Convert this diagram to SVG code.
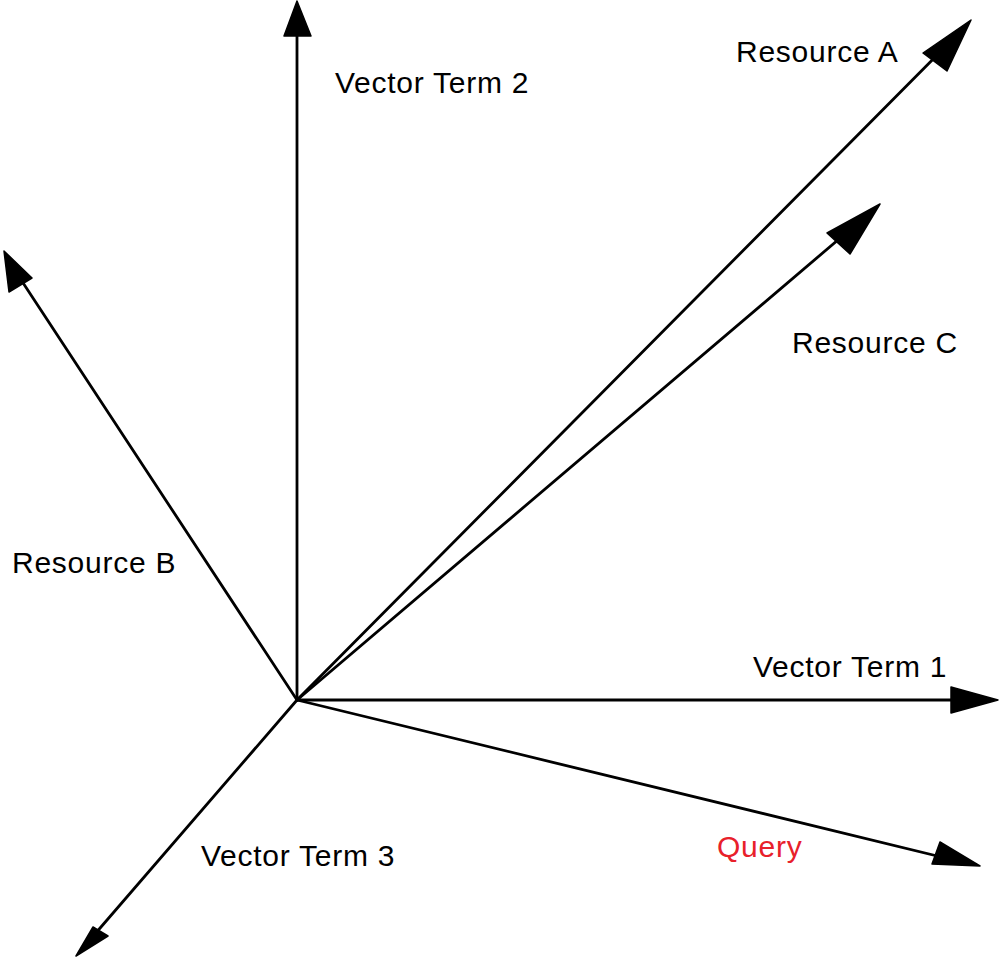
<svg xmlns="http://www.w3.org/2000/svg" width="1000" height="958" viewBox="0 0 1000 958">
<style>
.ax{stroke:#000;stroke-width:2.8;fill:none;stroke-linecap:round}
.hd{fill:#000;stroke:#000;stroke-width:1.5;stroke-linejoin:round}
.lb{font-family:"Liberation Sans",Arial,sans-serif;font-size:30px;letter-spacing:0.75px;fill:#000}
.q{fill:#e8202a}
</style>
<rect width="1000" height="958" fill="#fff"/>
<g id="connectors">
<line class="ax" x1="297" y1="700" x2="990" y2="700"/>
<line class="ax" x1="297" y1="700" x2="297" y2="10"/>
<line class="ax" x1="297" y1="700" x2="962" y2="30"/>
<line class="ax" x1="297" y1="700" x2="872" y2="211"/>
<line class="ax" x1="297" y1="700" x2="8" y2="260"/>
<line class="ax" x1="297" y1="700" x2="970" y2="864"/>
<line class="ax" x1="297" y1="700" x2="82" y2="949"/>
<polygon class="hd" points="998,700 951,687 951,713"/>
<polygon class="hd" points="297,1 284,36 311,36"/>
<polygon class="hd" points="971,20 923,53 947,71"/>
<polygon class="hd" points="880,204 827,233 850,254"/>
<polygon class="hd" points="4,251 9,292 32,278"/>
<polygon class="hd" points="980,866 940,842 932,864"/>
<polygon class="hd" points="76,956 93,927 108,936"/>
</g>
<g id="vector-term-1"><text class="lb" x="753" y="677">Vector Term 1</text></g>
<g id="vector-term-2"><text class="lb" x="335" y="93">Vector Term 2</text></g>
<g id="vector-term-3"><text class="lb" x="201" y="866">Vector Term 3</text></g>
<g id="resource-a"><text class="lb" x="736" y="62">Resource A</text></g>
<g id="resource-b"><text class="lb" x="12" y="573">Resource B</text></g>
<g id="resource-c"><text class="lb" x="792" y="353">Resource C</text></g>
<g id="query"><text class="lb q" x="717" y="857">Query</text></g>
</svg>
